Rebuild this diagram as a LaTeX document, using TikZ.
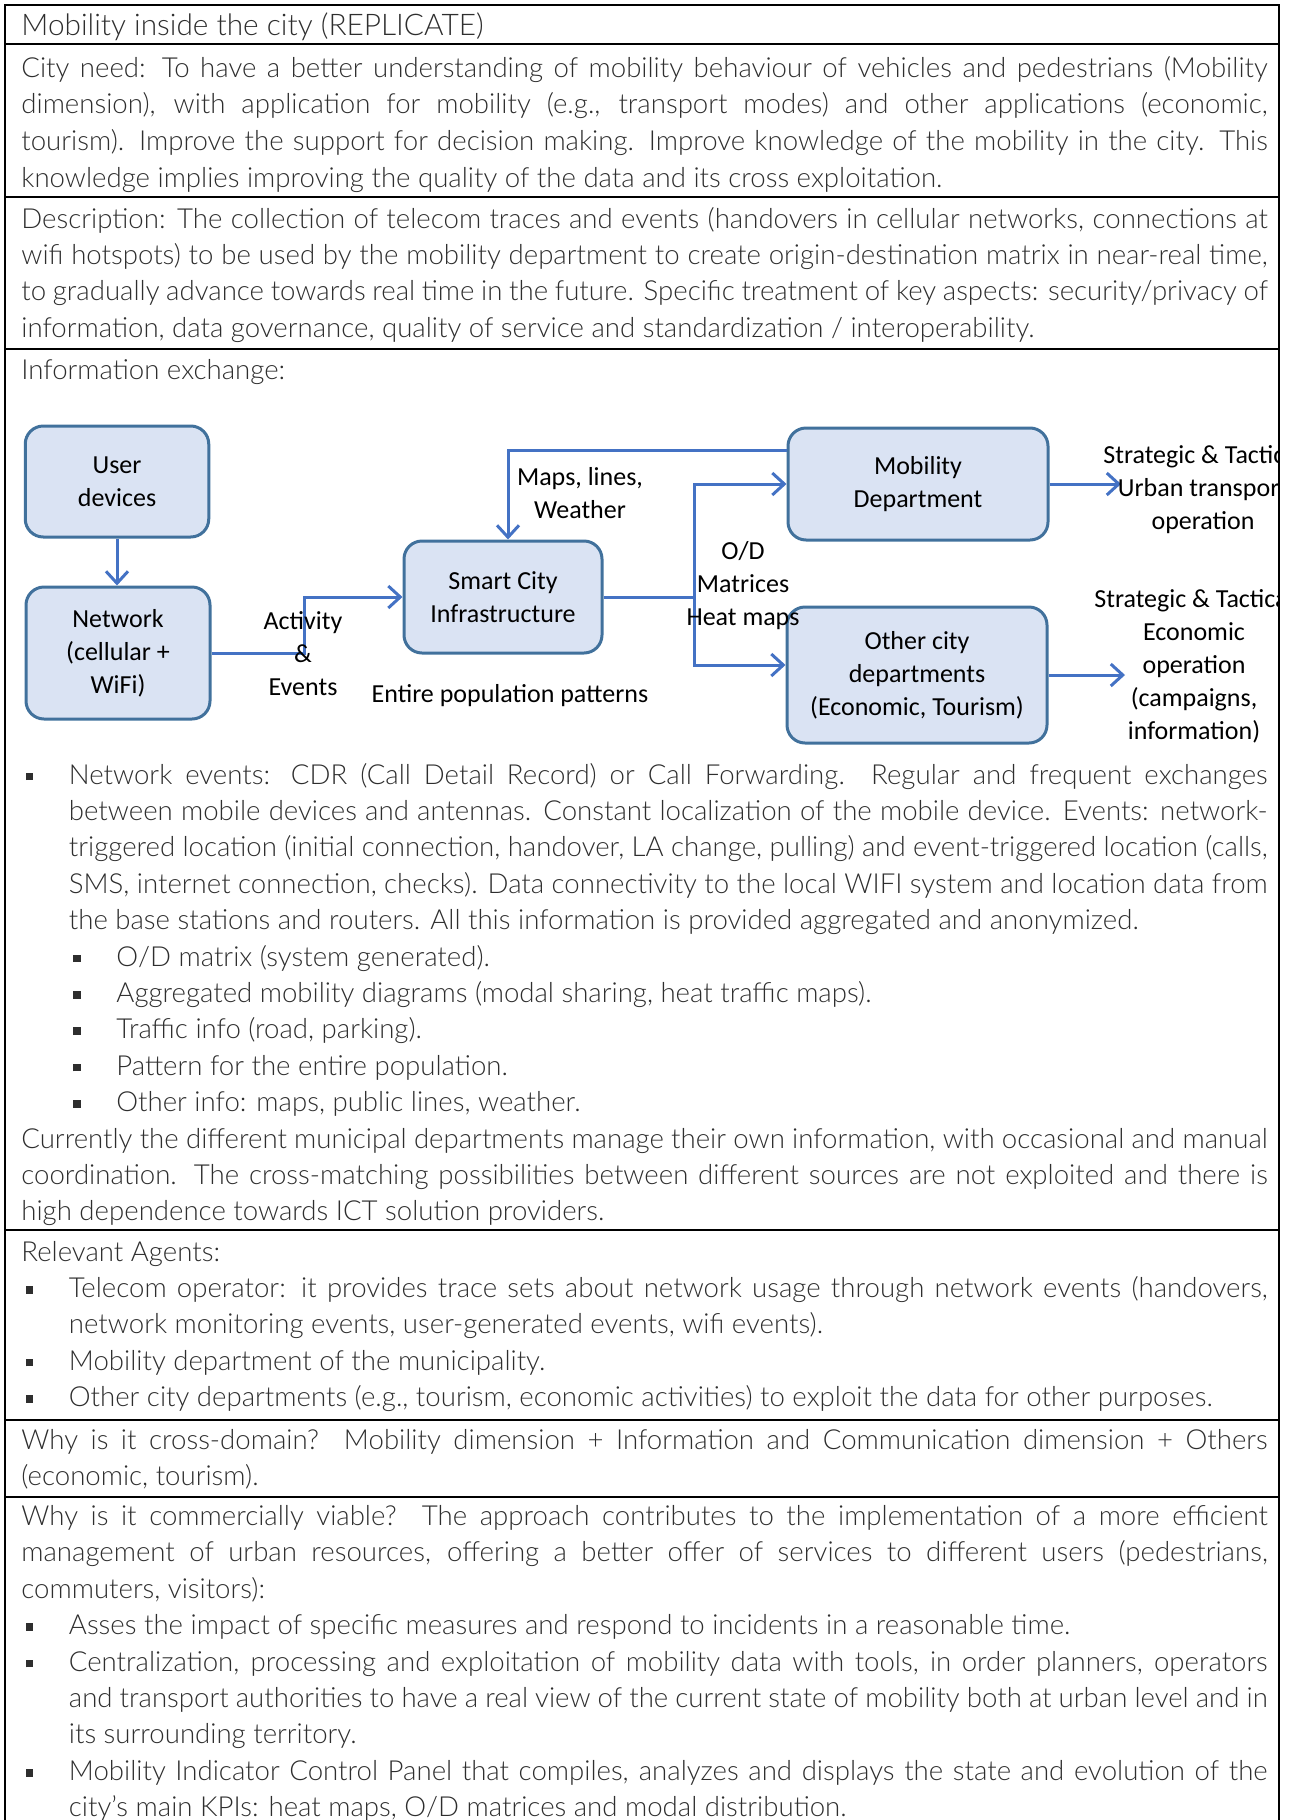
\documentclass[tikz,border=0pt]{standalone}
\usepackage{fontspec}
\IfFontExistsTF{Lato Light}{\setmainfont{Lato Light}}{\setmainfont{Lato}}
\newfontfamily\diagfont{Carlito}
\usetikzlibrary{arrows.meta}

\definecolor{boxfill}{HTML}{DAE3F3}
\definecolor{boxline}{HTML}{41719C}
\definecolor{flowblue}{HTML}{4472C4}
\definecolor{ink}{HTML}{2E2E2E}

\newcommand{\sqbul}{\rule[1.9pt]{3.8pt}{3.8pt}}
\newcommand{\bulitem}[1]{\hangindent=23.75pt\hangafter=1\hspace*{2.25pt}\makebox[21.5pt][l]{\sqbul}#1\par}
\newcommand{\subbulitem}[1]{\hspace*{26pt}\makebox[21.5pt][l]{\sqbul}#1\par}

\tikzset{
  body/.style={anchor=base west, inner sep=0pt, text width=623pt, align=justify, text=ink,
    font=\fontsize{13.8pt}{18.2pt}\selectfont},
  frameline/.style={line width=1pt},
  unit/.style={draw=boxline, fill=boxfill, line width=1.5pt, rounded corners=9pt, align=center,
    inner sep=0pt, font=\diagfont\fontsize{13pt}{16.5pt}\selectfont},
  tag/.style={align=center, inner sep=0pt, font=\diagfont\fontsize{13pt}{16.5pt}\selectfont},
  link/.style={draw=flowblue, line width=1.5pt, -{Straight Barb[length=6pt,width=11pt]}},
}

\begin{document}
\begin{tikzpicture}[x=0.5pt, y=-0.5pt]
\useasboundingbox (0,0) rectangle (1295,1820);

% table frame
\draw[frameline] (5,1820) -- (5,5) -- (1279,5) -- (1279,1820);
\foreach \yy in {44,197,349,1230,1420,1497}
  \draw[frameline] (5,\yy) -- (1279,\yy);

% text rows
\node[body, font=\fontsize{14.9pt}{18.2pt}\selectfont] (title) at (21,35) {Mobility inside the city (REPLICATE)};
\node[body, font=\fontsize{13.8pt}{18.4pt}\selectfont] (need) at (21,77) {City need: To have a better understanding of mobility behaviour of vehicles and pedestrians (Mobility\linebreak
dimension), with application for mobility (e.g., transport modes) and other applications (economic,\linebreak
tourism). Improve the support for decision making. Improve knowledge of the mobility in the city. This\linebreak
knowledge implies improving the quality of the data and its cross exploitation.};
\node[body] (descr) at (21,228) {Description: The collection of telecom traces and events (handovers in cellular networks, connections at\linebreak
wifi hotspots) to be used by the mobility department to create origin-destination matrix in near-real time,\linebreak
to gradually advance towards real time in the future. Specific treatment of key aspects: security/privacy of\linebreak
information, data governance, quality of service and standardization / interoperability.};
\node[body] (infox) at (21,379) {Information exchange:};

% diagram
\node[unit, minimum width=91.75pt, minimum height=55.5pt] (user) at (117,481.5) {User\\devices};
\node[unit, minimum width=92pt, minimum height=66pt] (network) at (118,653) {Network\\(cellular +\\WiFi)};
\node[unit, minimum width=99pt, minimum height=56pt] (smart) at (503,597) {Smart City\\Infrastructure};
\node[unit, minimum width=130pt, minimum height=56pt] (mobdep) at (918,484) {Mobility\\Department};
\node[unit, minimum width=130pt, minimum height=68pt] (otherdep) at (917,675) {Other city\\departments\\(Economic, Tourism)};

\coordinate (jog) at (304,597);
\coordinate (split) at (694,597);
\coordinate (mobout) at (1121,484);
\coordinate (othout) at (1125,675);

\draw[link] (user.south) -- (user.south |- network.north);
\draw[link] (network.east) -| (jog) -- (smart.west);
\draw[link] ([yshift=17pt]mobdep.west) -| ([xshift=2.5pt]smart.north);
\draw[link] (smart.east) -- (split) |- (mobdep.west);
\draw[link] (split) |- ([yshift=5pt]otherdep.west);
\draw[link] (mobdep.east) -- (mobout);
\draw[link] (otherdep.east) -- (othout);

\node[tag] (acts) at (303,654) {Activity\\\&\\Events};
\node[tag] (pop) at (510,696) {Entire population patterns};
\node[tag] (maps) at (580,493) {Maps, lines,\\Weather};
\node[tag] (odm) at (743,586) {O/D\\Matrices\\Heat maps};
\begin{scope}
  \clip (5,5) rectangle (1279,1820);
  \node[tag] (mobuse) at (1203,490) {Strategic \& Tactical\\Urban transport\\operation};
  \node[tag] (othuse) at (1194,666) {Strategic \& Tactical\\Economic\\operation\\(campaigns,\\information)};
\end{scope}

% bullet rows
\node[body] (events) at (21,784) {\bulitem{Network events: CDR (Call Detail Record) or Call Forwarding. Regular and frequent exchanges\linebreak
between mobile devices and antennas. Constant localization of the mobile device. Events: network-\linebreak
triggered location (initial connection, handover, LA change, pulling) and event-triggered location (calls,\linebreak
SMS, internet connection, checks). Data connectivity to the local WIFI system and location data from\linebreak
the base stations and routers. All this information is provided aggregated and anonymized.}
\subbulitem{O/D matrix (system generated).}
\subbulitem{Aggregated mobility diagrams (modal sharing, heat traffic maps).}
\subbulitem{Traffic info (road, parking).}
\subbulitem{Pattern for the entire population.}
\subbulitem{Other info: maps, public lines, weather.}
Currently the different municipal departments manage their own information, with occasional and manual\linebreak
coordination. The cross-matching possibilities between different sources are not exploited and there is\linebreak
high dependence towards ICT solution providers.};

\node[body] (agents) at (21,1261) {Relevant Agents:\par
\bulitem{Telecom operator: it provides trace sets about network usage through network events (handovers,\linebreak
network monitoring events, user-generated events, wifi events).}
\bulitem{Mobility department of the municipality.}
\bulitem{Other city departments (e.g., tourism, economic activities) to exploit the data for other purposes.}};

\node[body] (cross) at (21,1449) {Why is it cross-domain? Mobility dimension + Information and Communication dimension + Others\linebreak
(economic, tourism).};

\node[body] (viable) at (21,1525.5) {Why is it commercially viable? The approach contributes to the implementation of a more efficient\linebreak
management of urban resources, offering a better offer of services to different users (pedestrians,\linebreak
commuters, visitors):\par
\bulitem{Asses the impact of specific measures and respond to incidents in a reasonable time.}
\bulitem{Centralization, processing and exploitation of mobility data with tools, in order planners, operators\linebreak
and transport authorities to have a real view of the current state of mobility both at urban level and in\linebreak
its surrounding territory.}
\bulitem{Mobility Indicator Control Panel that compiles, analyzes and displays the state and evolution of the\linebreak
city's main KPIs: heat maps, O/D matrices and modal distribution.}};
\end{tikzpicture}
\end{document}
